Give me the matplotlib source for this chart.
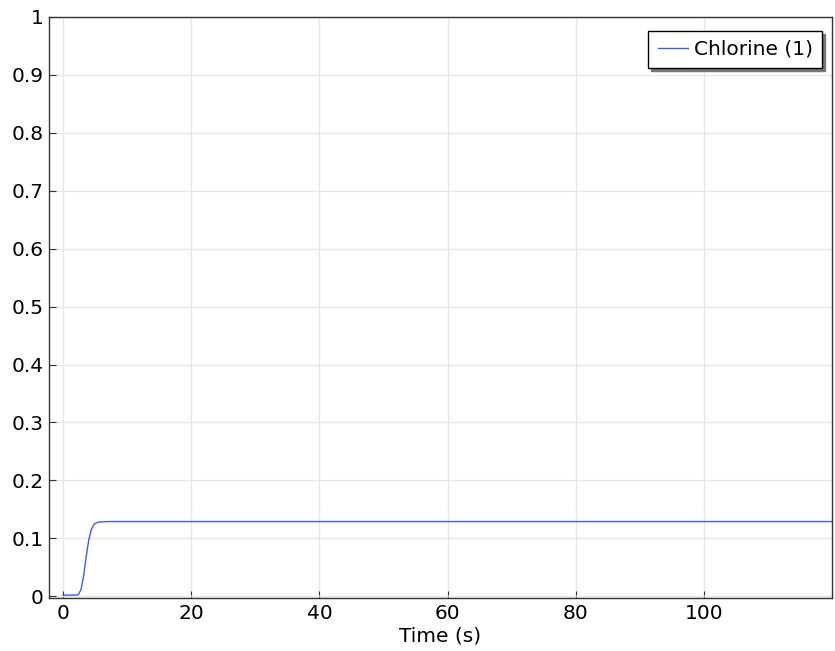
import matplotlib
matplotlib.use('Agg')
import matplotlib.pyplot as plt

# time (s) and chlorine concentration
time_s = [0, 1, 2, 2.4, 2.8, 3.2, 3.6, 4.0, 4.4, 4.8, 5.2, 5.6, 6.0, 7, 8, 10, 15, 20, 40, 60, 80, 100, 120]
chlorine = [0.002, 0.002, 0.002, 0.003, 0.012, 0.035, 0.068, 0.097, 0.115, 0.124, 0.127, 0.128, 0.1285, 0.129, 0.129,
            0.129, 0.129, 0.129, 0.129, 0.129, 0.129, 0.129, 0.129]

x_ticks = [0, 20, 40, 60, 80, 100]
y_ticks = [0, 0.1, 0.2, 0.3, 0.4, 0.5, 0.6, 0.7, 0.8, 0.9, 1]
y_labels = ['0', '0.1', '0.2', '0.3', '0.4', '0.5', '0.6', '0.7', '0.8', '0.9', '1']

fs = 14.5

fig = plt.figure(figsize=(8.35, 6.51), dpi=100)
ax = fig.add_axes([0.0587, 0.0814, 0.9377, 0.8925])

ax.plot(time_s, chlorine, color='#3a5cf0', lw=1.0, label='Chlorine (1)')

ax.set_xlim(-2.2, 120)
ax.set_ylim(-0.003, 1)
ax.set_xticks(x_ticks)
ax.set_yticks(y_ticks)
ax.set_yticklabels(y_labels)
ax.tick_params(direction='in', labelsize=fs, length=5, width=0.8, color='#333333', pad=4)
ax.grid(True, color='#e6e6e6', lw=1)
ax.set_axisbelow(True)
for s in ax.spines.values():
    s.set_color('#333333')
    s.set_linewidth(1)

ax.set_xlabel('Time (s)', fontsize=fs, labelpad=3)

leg = ax.legend(loc='upper right', bbox_to_anchor=(0.987, 0.976), borderaxespad=0,
                fontsize=fs, fancybox=False, shadow={'color': '#777777', 'alpha': 1},
                framealpha=1, edgecolor='black', handlelength=1.5, handletextpad=0.3,
                borderpad=0.45)
leg.get_frame().set_linewidth(1)

fig.savefig('out.png', dpi=100)
